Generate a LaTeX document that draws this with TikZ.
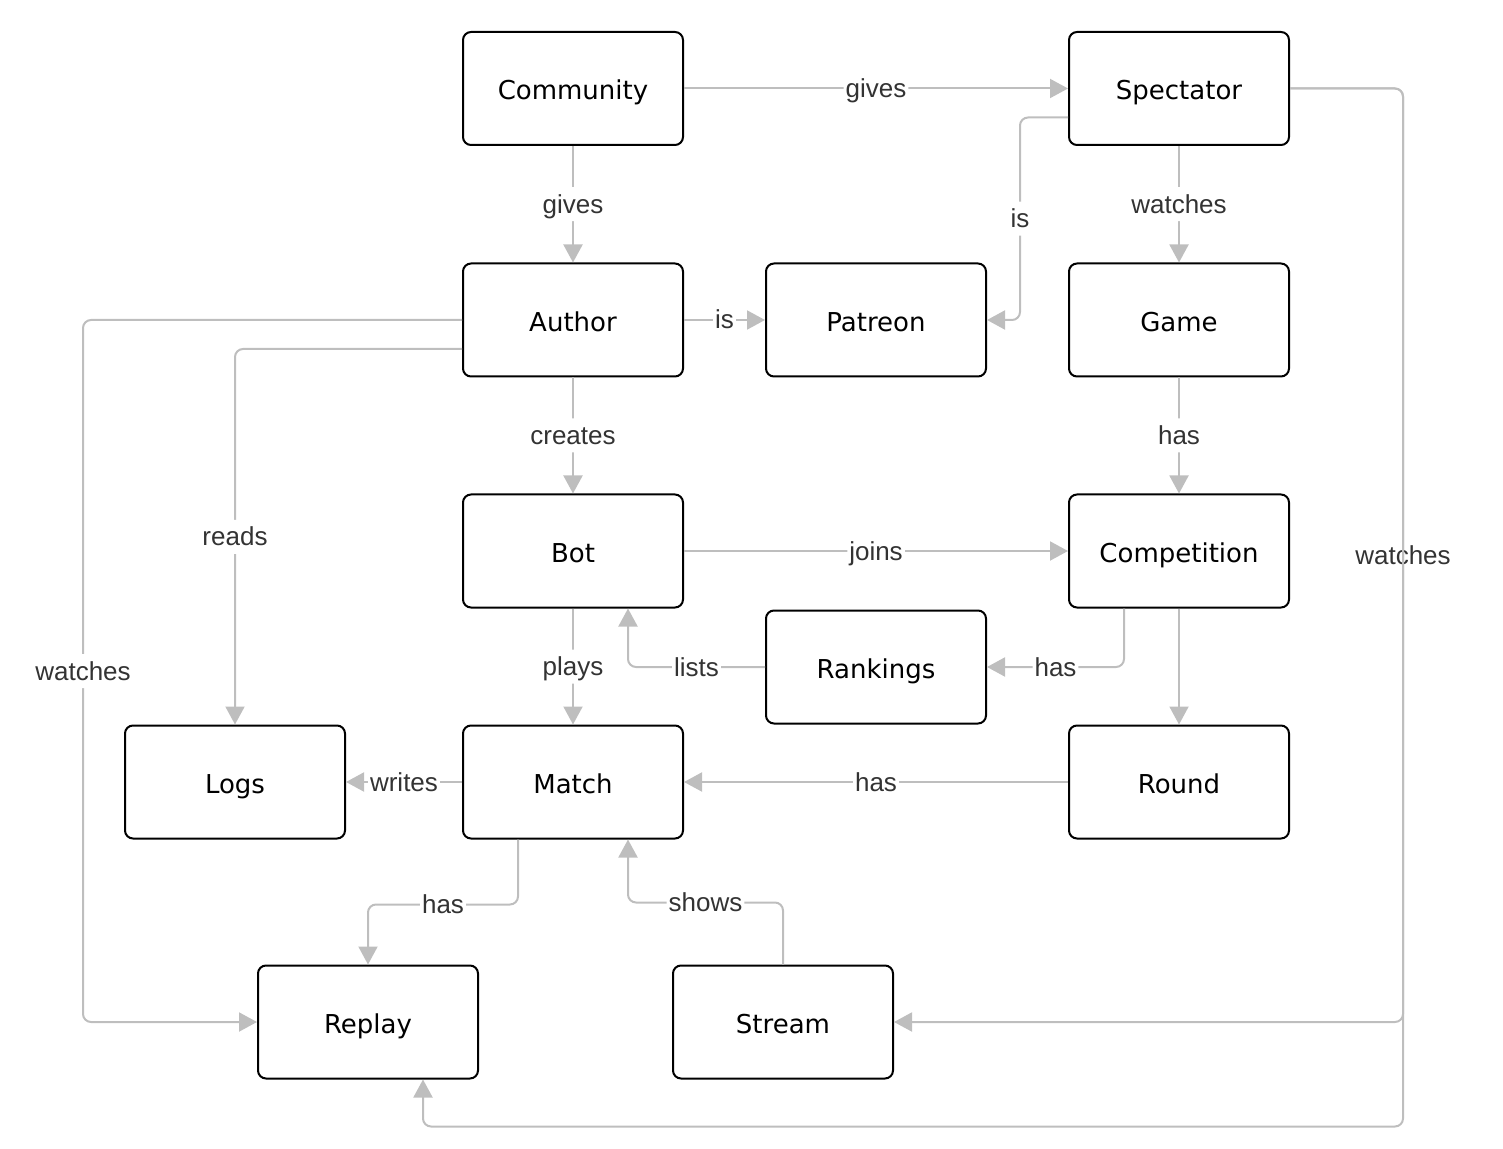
\documentclass[tikz,border=0pt]{standalone}
\usepackage{fontspec}
\setmainfont{DejaVu Sans}
\newfontfamily\lblfont{Liberation Sans}
\usetikzlibrary{arrows.meta}
\definecolor{edgegray}{RGB}{190,190,190}
\definecolor{lblgray}{RGB}{51,51,51}

\begin{document}
\begin{tikzpicture}[x=0.5pt,y=-0.5pt,
        box/.style={draw=black, line width=1pt, rounded corners=4pt, fill=white,
            minimum width=110pt, minimum height=56.5pt, inner sep=0pt,
            text height=12pt, text depth=0.5pt,
            font=\fontsize{13}{15}\selectfont},
        edge/.style={draw=edgegray, line width=1pt, rounded corners=4pt,
            -{Triangle[length=9pt,width=9.5pt]}},
        lbl/.style={fill=white, text=lblgray, inner xsep=1pt, inner ysep=1pt,
            text height=12pt, text depth=3pt,
            font=\lblfont\fontsize{13}{15}\selectfont}]
            \useasboundingbox (0,0) rectangle (1503,1149);

            \foreach \n/\px/\py/\t in {community/573/88.5/Community, spectator/1179/88.5/Spectator,
                author/573/320/Author, patreon/876/320/Patreon, game/1179/320/Game,
                bot/573/551/Bot, competition/1179/551/Competition, rankings/876/667/Rankings,
                logs/235/782/Logs, match/573/782/Match, round/1179/782/Round,
                replay/368/1022/Replay, stream/783/1022/Stream}
            {
                \node[box] (\n) at (\px,\py) {\t};
            }

            \foreach \a/\b/\t in {community/spectator/gives, community/author/gives, author/patreon/is,
                spectator/game/watches, author/bot/creates, game/competition/has, bot/competition/joins,
                bot/match/plays, match/logs/writes, round/match/has}
            {
                \draw[edge] (\a) -- node[lbl] {\t} (\b);
            }
            \draw[edge] (competition) -- (round);

            \draw[edge] ([yshift=-14.5pt]spectator.west) -- ++(-48,0) |- node[lbl,pos=0.25] {is} (patreon.east);
            \draw[edge] ([yshift=-14.5pt]author.west) -| node[lbl,pos=0.75] {reads} (logs.north);
            \draw[edge] (author.west) -- ++(-379,0) |- node[lbl,pos=0.25] {watches} (replay.west);
            \draw[edge] (rankings.west) -| node[lbl,pos=0.25] {lists} ([xshift=27.5pt]bot.south);
            \draw[edge] ([xshift=-27.5pt]competition.south) |- node[lbl,pos=0.75] {has} (rankings.east);
            \draw[edge] ([xshift=-27.5pt]match.south) -- ++(0,65) -| node[lbl,pos=0.25] {has} (replay.north);
            \draw[edge] (stream.north) -- ++(0,-62) -| node[lbl,pos=0.25] {shows} ([xshift=27.5pt]match.south);

            \draw[edge] (spectator.east) -- ++(113,0) |- node[lbl,fill=none,pos=0.25] {watches} (stream.east);
            \draw[edge] (spectator.east) -- ++(113,0) -- ++(0,1038) -| ([xshift=27.5pt]replay.south);
        \end{tikzpicture}
\end{document}
